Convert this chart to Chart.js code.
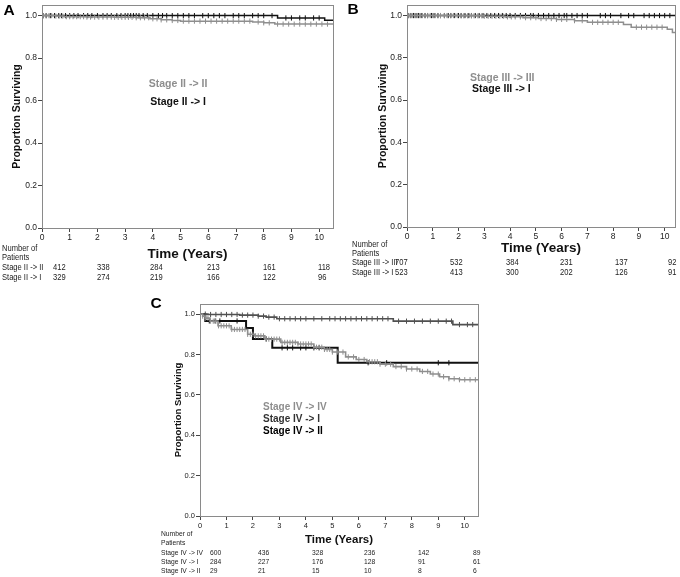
<!DOCTYPE html>
<html><head><meta charset="utf-8">
<script src="https://cdn.jsdelivr.net/npm/chart.js@4"></script>
<style>
html,body{margin:0;padding:0;background:#fff;}
body{width:680px;height:577px;position:relative;overflow:hidden;font-family:"Liberation Sans",Arial,sans-serif;}
canvas{position:absolute;}
.t{position:absolute;white-space:nowrap;color:#222;}
</style></head><body>
<canvas id="cA" width="340" height="262" style="left:0;top:0"></canvas>
<canvas id="cB" width="340" height="256" style="left:340px;top:0"></canvas>
<canvas id="cC" width="340" height="248" style="left:150px;top:299px"></canvas>
<div id="txt"></div>
<script>
// ---------- DATA ----------
const xTicks = [0,1,2,3,4,5,6,7,8,9,10];
const yTicks = [0,0.2,0.4,0.6,0.8,1.0];

// Panel A
const tA_II_II = [0,0.5,0.8,1.6,2.6,3.4,3.9,4.3,4.7,5.0,7.6,8.0,8.4,10.5];
const sA_II_II = [1,0.998,0.995,0.993,0.992,0.99,0.985,0.98,0.977,0.974,0.97,0.966,0.96,0.96];
const tA_II_I = [0,8.5,10.2,10.5];
const sA_II_I = [1,0.989,0.978,0.978];
const censA_II_II = [0.05,0.15,0.25,0.35,0.5,0.62,0.75,0.88,1.0,1.12,1.25,1.38,1.5,1.62,1.75,1.9,2.05,2.2,2.35,2.5,2.62,2.75,2.88,3.0,3.12,3.25,3.4,3.55,3.7,3.85,4.0,4.15,4.3,4.5,4.7,4.9,5.1,5.3,5.5,5.7,5.9,6.1,6.3,6.5,6.7,6.9,7.1,7.3,7.5,7.8,8.0,8.2,8.5,8.7,8.9,9.1,9.3,9.5,9.7,9.9,10.1,10.3];
const censA_II_I = [0.05,0.15,0.3,0.45,0.6,0.7,0.85,1.0,1.15,1.3,1.5,1.65,1.8,2.0,2.2,2.35,2.5,2.7,2.85,3.0,3.1,3.2,3.3,3.4,3.5,3.65,3.8,4.0,4.2,4.35,4.5,4.7,4.9,5.1,5.3,5.5,5.8,6.0,6.2,6.4,6.6,6.9,7.1,7.3,7.6,7.8,8.0,8.3,8.8,9.0,9.3,9.5,9.8,10.0];
const riskA_II_II = [412,338,284,213,161,118];
const riskA_II_I = [329,274,219,166,122,96];

// Panel B
const tB_III_III = [0,2.0,3.0,3.8,4.5,5.1,5.8,6.5,7.0,8.4,8.7,10.1,10.3,10.4];
const sB_III_III = [1,0.999,0.997,0.994,0.99,0.986,0.982,0.976,0.968,0.958,0.945,0.935,0.92,0.92];
const tB_III_I = [0,10.4];
const sB_III_I = [1,1];
const censB_III_III = [0.05,0.12,0.2,0.3,0.4,0.5,0.6,0.7,0.8,0.9,1.0,1.1,1.2,1.3,1.45,1.55,1.7,1.8,1.95,2.1,2.2,2.35,2.5,2.6,2.75,2.9,3.0,3.15,3.3,3.45,3.6,3.75,3.9,4.05,4.2,4.4,4.6,4.8,5.0,5.2,5.4,5.6,5.8,6.0,6.2,6.5,6.8,7.2,7.4,7.6,7.8,8.0,8.2,8.9,9.1,9.3,9.5,9.7,9.9];
const censB_III_I = [0.05,0.15,0.25,0.35,0.45,0.55,0.7,0.8,0.95,1.05,1.2,1.3,1.45,1.6,1.7,1.85,2.0,2.1,2.25,2.4,2.5,2.65,2.8,2.95,3.1,3.25,3.4,3.55,3.7,3.85,4.0,4.2,4.4,4.6,4.8,4.9,5.1,5.3,5.5,5.7,5.9,6.1,6.2,6.4,6.6,6.8,7.0,7.5,7.7,7.9,8.3,8.6,8.8,9.2,9.4,9.6,9.8,10.0,10.2];
const riskB_III_III = [707,532,384,231,137,92];
const riskB_III_I = [523,413,300,202,126,91];

// Panel C
const tC_IV_IV = [0,0.1,0.2,0.38,0.68,1.18,1.8,2.07,2.45,3.05,3.7,4.3,4.7,5.0,5.5,5.9,6.3,6.8,7.3,7.8,8.3,8.7,9.05,9.4,9.8,10.5];
const sC_IV_IV = [1,0.99,0.98,0.965,0.942,0.924,0.9,0.892,0.876,0.86,0.852,0.836,0.825,0.812,0.788,0.775,0.764,0.752,0.74,0.728,0.716,0.703,0.69,0.68,0.675,0.672];
const tC_IV_I = [0,0.3,1.5,2.2,2.5,2.9,7.3,9.55,10.5];
const sC_IV_I = [1,0.998,0.995,0.99,0.985,0.977,0.965,0.948,0.948];
const tC_IV_II = [0,0.2,1.74,2.0,2.73,5.2,10.5];
const sC_IV_II = [1,0.966,0.931,0.877,0.833,0.759,0.759];
const censC_IV_IV = [0.1,0.2,0.3,0.4,0.5,0.6,0.7,0.8,0.9,1.0,1.1,1.2,1.3,1.4,1.5,1.6,1.7,1.8,1.9,2.0,2.1,2.2,2.3,2.4,2.5,2.6,2.7,2.8,2.9,3.0,3.1,3.2,3.3,3.4,3.5,3.6,3.7,3.8,3.9,4.0,4.1,4.2,4.3,4.4,4.5,4.6,4.7,4.8,4.9,5.0,5.2,5.4,5.6,5.8,6.0,6.2,6.4,6.5,6.6,6.7,6.8,7.0,7.2,7.4,7.6,7.8,8.0,8.2,8.4,8.6,8.8,9.0,9.2,9.4,9.6,9.8,10.0,10.2,10.4];
const censC_IV_I = [0.2,0.4,0.6,0.8,1.0,1.2,1.4,1.6,1.8,2.0,2.2,2.4,2.6,2.8,3.0,3.2,3.4,3.6,3.8,4.0,4.3,4.6,4.9,5.1,5.3,5.5,5.7,5.9,6.1,6.3,6.5,6.7,6.9,7.1,7.5,7.8,8.1,8.4,8.7,9.0,9.3,9.5,9.8,10.1,10.3];
const censC_IV_II = [0.35,0.57,0.75,1.4,2.5,3.1,3.3,3.5,3.8,4.0,4.3,4.5,6.35,7.05,9.0,9.4];
const riskC_IV_IV = [600,436,328,236,142,89];
const riskC_IV_I = [284,227,176,128,91,61];
const riskC_IV_II = [29,21,15,10,8,6];

// ---------- DRAWING ----------
const FAM = '"Liberation Sans", Arial, sans-serif';
Chart.defaults.font.family = FAM;
const GRAY = '#8e8e8e', BLACK = '#111111', DARK = '#505050';

function stepAt(ts, ss, x){ let v = ss[0]; for(let i=0;i<ts.length;i++){ if(ts[i]<=x) v=ss[i]; } return v; }

const framePlugin = { id:'frame', afterDraw(chart){
  const {ctx, chartArea:a} = chart; ctx.save(); ctx.strokeStyle='#8a8a8a'; ctx.lineWidth=1;
  ctx.strokeRect(Math.round(a.left)+0.5, Math.round(a.top)+0.5, Math.round(a.right-a.left), Math.round(a.bottom-a.top)); ctx.restore(); } };

function makeChart(id, cfg){
  const datasets = [];
  cfg.series.forEach(se=>{
    datasets.push({data: se.t.map((x,i)=>({x, y:se.s[i]})), stepped:true, borderColor:se.color, borderWidth:se.width, pointRadius:0, fill:false, tension:0});
    datasets.push({data: se.c.map(x=>({x, y:stepAt(se.t, se.s, x)})), showLine:false, pointStyle:'line', rotation:90, pointRadius:2.6, pointBorderWidth:1, pointBorderColor:se.color, borderColor:se.color, backgroundColor:se.color});
  });
  new Chart(document.getElementById(id), {
    type:'line', data:{datasets}, plugins:[framePlugin],
    options:{ responsive:false, animation:false, devicePixelRatio:1, events:[],
      layout:{padding:cfg.pad},
      plugins:{legend:{display:false}, tooltip:{enabled:false}},
      scales:{
        x:{type:'linear', min:0, max:cfg.xmax,
          afterBuildTicks:s=>{s.ticks = xTicks.map(v=>({value:v}));},
          afterFit:s=>{s.height = cfg.xh; s.paddingLeft = 0; s.paddingRight = 0;},
          grid:{drawOnChartArea:false, drawTicks:true, tickLength:4, color:'#444'},
          border:{display:true, color:'#8a8a8a'},
          ticks:{font:{size:cfg.tick}, color:'#222', padding:1, maxRotation:0, autoSkip:false, callback:v=>String(v)},
          title:{display:true, text:'Time (Years)', font:{size:cfg.xt, weight:'bold'}, color:'#111', padding:{top:0,bottom:0}}},
        y:{type:'linear', min:0, max:1.05,
          afterBuildTicks:s=>{s.ticks = yTicks.map(v=>({value:v}));},
          afterFit:s=>{s.width = cfg.yw; s.paddingTop = 0; s.paddingBottom = 0;},
          grid:{drawOnChartArea:false, drawTicks:true, tickLength:4, color:'#444'},
          border:{display:true, color:'#8a8a8a'},
          ticks:{font:{size:cfg.tick}, color:'#222', padding:1, callback:v=>Number(v).toFixed(1)},
          title:{display:true, text:'Proportion Surviving', font:{size:cfg.yt, weight:'bold'}, color:'#111', padding:{top:cfg.ytp, bottom:0}}}
      }
    }
  });
}

makeChart('cA', {xmax:10.5, xh:34, yw:42, pad:{left:0,right:7,top:2,bottom:0}, tick:8.5, xt:13.5, yt:10.5, ytp:10.7,
  series:[{t:tA_II_II, s:sA_II_II, c:censA_II_II, color:GRAY, width:1.5},
          {t:tA_II_I, s:sA_II_I, c:censA_II_I, color:BLACK, width:1.5}]});
makeChart('cB', {xmax:10.4, xh:29, yw:42, pad:{left:25,right:5,top:2,bottom:0}, tick:8.5, xt:13.5, yt:10.5, ytp:11.7,
  series:[{t:tB_III_III, s:sB_III_III, c:censB_III_III, color:GRAY, width:1.5},
          {t:tB_III_I, s:sB_III_I, c:censB_III_I, color:BLACK, width:1.5}]});
makeChart('cC', {xmax:10.5, xh:31, yw:30, pad:{left:20,right:12,top:2,bottom:0}, tick:7.5, xt:11.5, yt:9.5, ytp:3,
  series:[{t:tC_IV_IV, s:sC_IV_IV, c:censC_IV_IV, color:GRAY, width:1.6},
          {t:tC_IV_I, s:sC_IV_I, c:censC_IV_I, color:DARK, width:1.6},
          {t:tC_IV_II, s:sC_IV_II, c:censC_IV_II, color:BLACK, width:2}]});

// ---------- TEXT ----------
const host = document.getElementById('txt');
function label(text, left, cy, size, o={}){
  const d = document.createElement('div'); d.className='t'; d.textContent=text;
  const lh = Math.round(size*1.25);
  d.style.left = left+'px'; d.style.top = (cy - lh/2)+'px'; d.style.fontSize = size+'px'; d.style.lineHeight = lh+'px';
  if(o.bold) d.style.fontWeight='bold';
  if(o.color) d.style.color=o.color;
  if(o.center) d.style.transform='translateX(-50%)';
  if(o.narrow){ d.style.transform='scaleX(0.84)'; d.style.transformOrigin='0 50%'; }
  host.appendChild(d);
}
// panel letters
label('A', 9, 9, 15.5, {bold:true, center:true, color:'#000'});
label('B', 353, 8.5, 15.5, {bold:true, center:true, color:'#000'});
label('C', 156, 302, 15.5, {bold:true, center:true, color:'#000'});
// in-plot legends
label('Stage II -> II', 178, 83, 10.5, {bold:true, center:true, color:GRAY});
label('Stage II -> I', 178, 101, 10.5, {bold:true, center:true, color:BLACK});
label('Stage III -> III', 470, 77, 10.5, {bold:true, color:GRAY});
label('Stage III -> I', 472, 88, 10.5, {bold:true, color:BLACK});
label('Stage IV -> IV', 263, 406, 10, {bold:true, color:GRAY});
label('Stage IV -> I', 263, 418, 10, {bold:true, color:'#333'});
label('Stage IV -> II', 263, 430, 10, {bold:true, color:'#000'});
// risk tables
function table(x0, ys, names, rows, cols, size){
  label('Number of', x0, ys[0], size, {narrow:true});
  label('Patients', x0, ys[1], size, {narrow:true});
  rows.forEach((r,i)=>{
    label(names[i], x0, ys[i+2], size, {narrow:true});
    r.forEach((v,j)=>label(String(v), cols[j], ys[i+2], size, {narrow:true}));
  });
}
table(2, [248,257,267,277], ['Stage II -> II','Stage II -> I'], [riskA_II_II, riskA_II_I], [53,97,150,207,263,318], 9);
table(352, [244,253,262,272], ['Stage III -> III','Stage III -> I'], [riskB_III_III, riskB_III_I], [395,450,506,560,615,668], 9);
table(161, [534,543,553,562,571], ['Stage IV -> IV','Stage IV -> I','Stage IV -> II'], [riskC_IV_IV, riskC_IV_I, riskC_IV_II], [210,258,312,364,418,473], 8);
</script>
</body></html>
